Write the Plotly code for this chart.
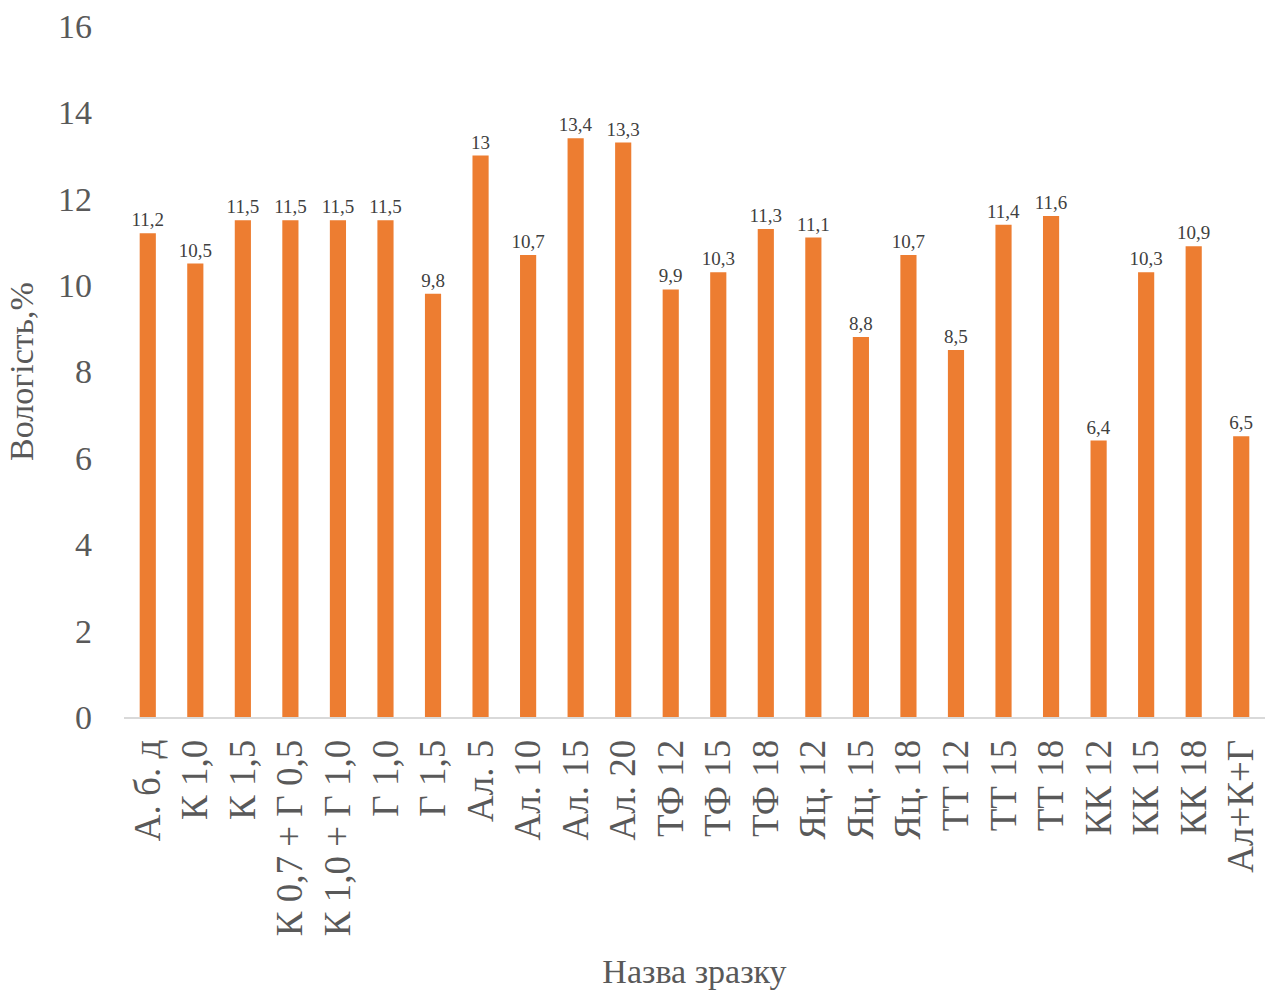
import plotly.graph_objects as go

# Sample names and moisture content (%)
samples = [
    "А. б. д", "К 1,0", "К 1,5", "К 0,7 + Г 0,5", "К 1,0 + Г 1,0", "Г 1,0", "Г 1,5",
    "Ал. 5", "Ал. 10", "Ал. 15", "Ал. 20", "ТФ 12", "ТФ 15", "ТФ 18",
    "Яц. 12", "Яц. 15", "Яц. 18", "ТТ 12", "ТТ 15", "ТТ 18",
    "КК 12", "КК 15", "КК 18", "Ал+К+Г",
]
moisture = [
    11.2, 10.5, 11.5, 11.5, 11.5, 11.5, 9.8,
    13.0, 10.7, 13.4, 13.3, 9.9, 10.3, 11.3,
    11.1, 8.8, 10.7, 8.5, 11.4, 11.6,
    6.4, 10.3, 10.9, 6.5,
]
y_ticks = [0, 2, 4, 6, 8, 10, 12, 14, 16]

labels = [f"{v:g}".replace(".", ",") for v in moisture]

FONT = "Liberation Serif, Times New Roman, serif"

fig = go.Figure(
    go.Bar(
        x=samples,
        y=moisture,
        marker=dict(color="#ED7D31", line=dict(width=0)),
        text=labels,
        textposition="outside",
        constraintext="none",
        textfont=dict(family=FONT, size=19, color="#404040"),
        cliponaxis=False,
        width=0.34,
    )
)

fig.update_layout(
    width=1273,
    height=992,
    margin=dict(l=124, r=8, t=20, b=273),
    plot_bgcolor="white",
    paper_bgcolor="white",
    showlegend=False,
    font=dict(family=FONT, color="#595959"),
)

fig.update_yaxes(
    range=[0, 16],
    tickvals=y_ticks,
    ticktext=[str(t) for t in y_ticks],
    showgrid=False,
    zeroline=False,
    showline=False,
    tickfont=dict(family=FONT, size=34, color="#595959"),
    ticklabelstandoff=31,
    title=dict(text="Вологість,%", font=dict(family=FONT, size=34, color="#595959"), standoff=14),
)

fig.update_xaxes(
    showgrid=False,
    showline=True,
    linecolor="#D9D9D9",
    linewidth=2,
    tickangle=-90,
    tickfont=dict(family=FONT, size=37, color="#595959"),
    ticklabelstandoff=6,
    title=dict(text="Назва зразку", font=dict(family=FONT, size=34, color="#595959"), standoff=24),
)

fig.write_html("out.html")
